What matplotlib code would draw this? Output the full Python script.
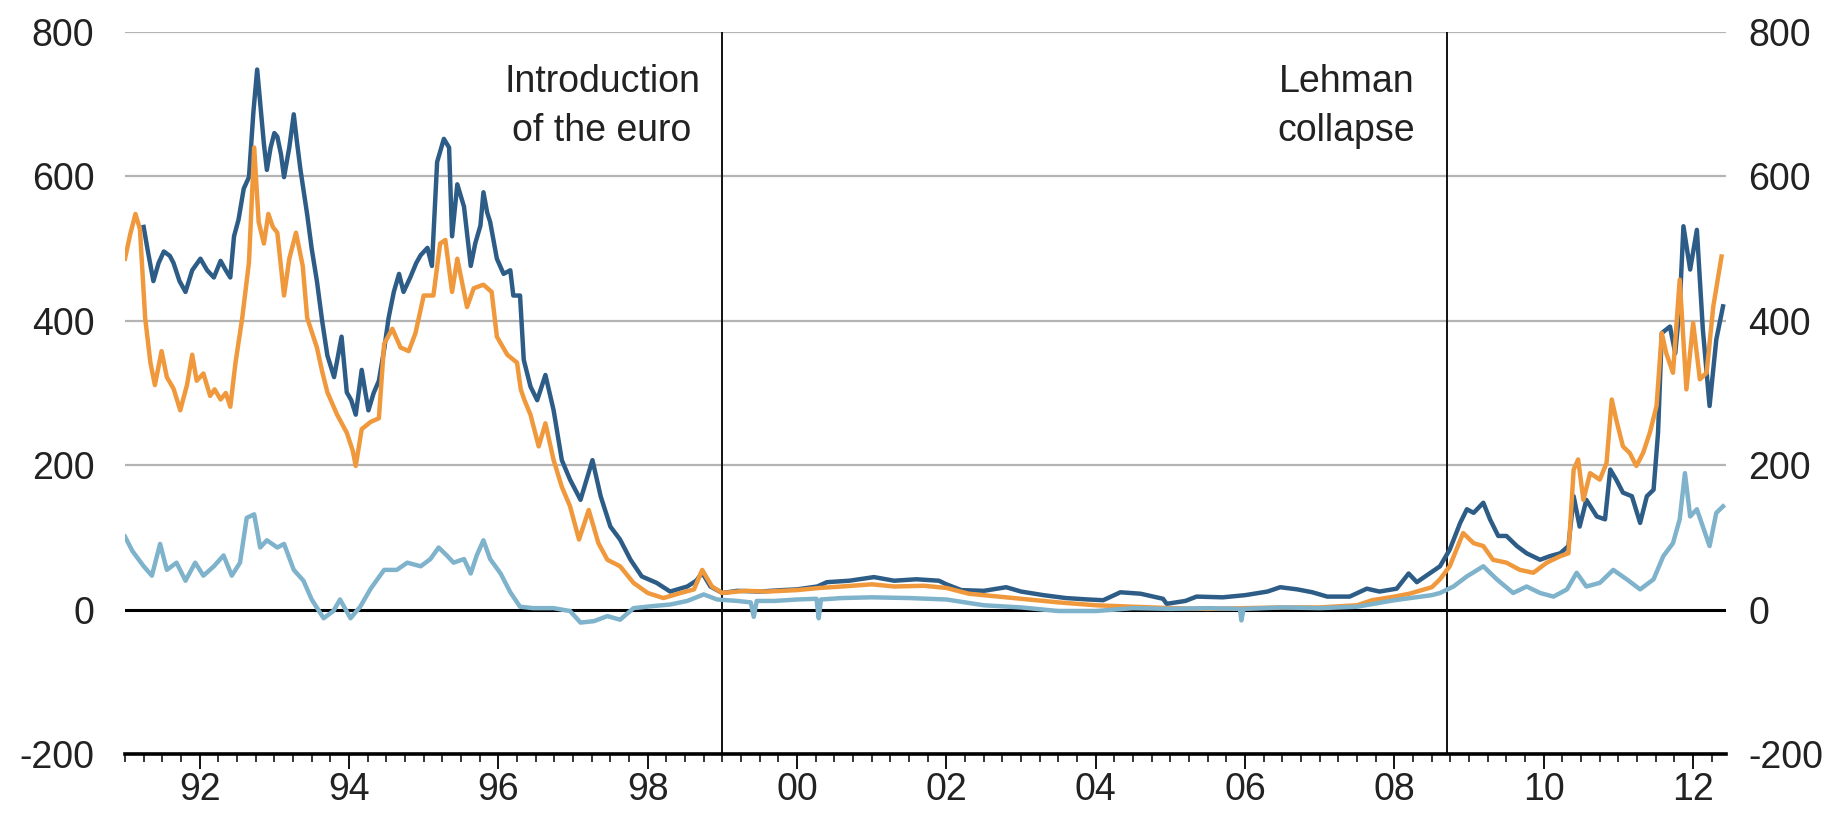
import matplotlib
matplotlib.use("Agg")
import matplotlib.pyplot as plt
from matplotlib.ticker import FixedLocator, MultipleLocator, FuncFormatter

plt.rcParams['font.family'] = ['Liberation Sans', 'DejaVu Sans']
plt.rcParams['axes.unicode_minus'] = False

# ---- data (decimal years, basis points) ----
dark_x = [1991.25, 1991.30, 1991.38, 1991.45, 1991.52, 1991.60, 1991.65, 1991.73, 1991.81, 1991.90,
          1992.01, 1992.10, 1992.19, 1992.28, 1992.35, 1992.41, 1992.46, 1992.52, 1992.59, 1992.66,
          1992.72, 1992.77, 1992.82, 1992.86, 1992.90, 1992.95, 1993.00, 1993.04, 1993.09, 1993.13,
          1993.20, 1993.26, 1993.30, 1993.35, 1993.44, 1993.50, 1993.57, 1993.64, 1993.71, 1993.80,
          1993.90, 1993.97, 1994.03, 1994.09, 1994.17, 1994.22, 1994.26, 1994.33, 1994.40, 1994.47,
          1994.53, 1994.60, 1994.67, 1994.73, 1994.82, 1994.90, 1994.96, 1995.05, 1995.11, 1995.15,
          1995.18, 1995.27, 1995.34, 1995.38, 1995.45, 1995.54, 1995.63, 1995.69, 1995.76, 1995.80,
          1995.85, 1995.89, 1995.98, 1996.07, 1996.16, 1996.20, 1996.29, 1996.34, 1996.43, 1996.52,
          1996.63, 1996.74, 1996.85, 1996.96, 1997.10, 1997.26, 1997.37, 1997.50, 1997.63, 1997.77,
          1997.92, 1998.12, 1998.30, 1998.53, 1998.65, 1998.73, 1998.84, 1999.00,
          1999.20, 1999.50, 1999.80, 2000.00, 2000.27, 2000.40, 2000.70, 2001.03, 2001.30, 2001.60,
          2001.90, 2002.00, 2002.20, 2002.50, 2002.80, 2003.00, 2003.30, 2003.60, 2003.90, 2004.10,
          2004.33, 2004.60, 2004.90, 2004.95, 2005.20, 2005.35, 2005.70, 2006.00, 2006.30, 2006.47,
          2006.70, 2006.90, 2007.10, 2007.40, 2007.63, 2007.80, 2008.03, 2008.19, 2008.30, 2008.47,
          2008.61, 2008.74, 2008.88, 2008.97, 2009.06, 2009.19, 2009.28, 2009.39, 2009.50, 2009.64,
          2009.77, 2009.95, 2010.08, 2010.22, 2010.33, 2010.40, 2010.48, 2010.57, 2010.71, 2010.82,
          2010.89, 2010.97, 2011.06, 2011.18, 2011.29, 2011.38, 2011.47, 2011.53, 2011.58, 2011.69,
          2011.76, 2011.82, 2011.87, 2011.96, 2012.05, 2012.13, 2012.22, 2012.31, 2012.40]
dark_y = [530, 500, 455, 480, 496, 490, 480, 455, 440, 470,
          486, 470, 460, 483, 470, 460, 517, 540, 583, 599,
          690, 748, 690, 645, 609, 640, 660, 655, 630, 599,
          640, 686, 650, 609, 547, 500, 455, 400, 352, 322,
          378, 301, 290, 270, 332, 300, 276, 300, 317, 360,
          404, 440, 465, 440, 460, 480, 491, 501, 476, 560,
          620, 652, 640, 517, 589, 558, 476, 507, 532, 578,
          550, 537, 486, 465, 470, 435, 435, 346, 309, 290,
          325, 276, 207, 180, 152, 207, 157, 115, 97, 69,
          46, 37, 25, 32, 40, 51, 32, 23,
          26, 25, 27, 28, 32, 38, 40, 45, 40, 42,
          40, 35, 27, 26, 31, 25, 20, 16, 14, 13,
          24, 22, 15, 8, 12, 18, 17, 20, 25, 31,
          28, 24, 18, 18, 29, 25, 29, 50, 38, 50,
          60, 83, 120, 139, 134, 148, 125, 102, 102, 88,
          78, 69, 74, 78, 88, 157, 115, 152, 129, 125,
          194, 180, 162, 157, 120, 157, 166, 245, 383, 392,
          355, 420, 531, 471, 526, 388, 282, 374, 420]

orange_x = [1991.00, 1991.07, 1991.14, 1991.20, 1991.27, 1991.34, 1991.40, 1991.49, 1991.56, 1991.65,
            1991.74, 1991.83, 1991.90, 1991.96, 1992.05, 1992.14, 1992.20, 1992.28, 1992.35, 1992.41,
            1992.48, 1992.57, 1992.66, 1992.73, 1992.79, 1992.86, 1992.92, 1992.98, 1993.04, 1993.13,
            1993.20, 1993.29, 1993.38, 1993.44, 1993.57, 1993.64, 1993.71, 1993.84, 1993.97, 1994.05,
            1994.09, 1994.17, 1994.29, 1994.40, 1994.47, 1994.58, 1994.69, 1994.80, 1994.89, 1995.00,
            1995.13, 1995.22, 1995.29, 1995.38, 1995.45, 1995.58, 1995.67, 1995.80, 1995.91, 1995.98,
            1996.12, 1996.25, 1996.30, 1996.35, 1996.43, 1996.54, 1996.63, 1996.74, 1996.85, 1996.96,
            1997.08, 1997.21, 1997.34, 1997.46, 1997.63, 1997.81, 1998.00, 1998.21, 1998.44, 1998.62,
            1998.73, 1998.86, 1999.00,
            1999.30, 1999.60, 2000.00, 2000.30, 2000.60, 2001.00, 2001.30, 2001.70, 2002.00, 2002.30,
            2002.70, 2003.00, 2003.50, 2004.00, 2004.50, 2005.00, 2005.50, 2006.00, 2006.50, 2007.00,
            2007.50, 2007.70, 2008.00, 2008.20, 2008.50, 2008.61, 2008.74, 2008.92, 2009.06, 2009.19,
            2009.32, 2009.50, 2009.68, 2009.86, 2010.04, 2010.22, 2010.33, 2010.40, 2010.46, 2010.53,
            2010.62, 2010.75, 2010.84, 2010.91, 2010.97, 2011.06, 2011.15, 2011.24, 2011.33, 2011.42,
            2011.51, 2011.58, 2011.64, 2011.73, 2011.82, 2011.91, 2012.00, 2012.09, 2012.18, 2012.27,
            2012.38]
orange_y = [486, 520, 548, 527, 404, 342, 311, 358, 322, 306,
            276, 311, 353, 317, 327, 296, 305, 291, 300, 281,
            342, 404, 481, 640, 537, 507, 548, 530, 522, 435,
            486, 522, 476, 404, 363, 330, 301, 270, 245, 220,
            199, 250, 260, 265, 368, 389, 363, 358, 383, 435,
            435, 507, 512, 440, 486, 419, 445, 450, 440, 378,
            353, 342, 305, 290, 270, 226, 258, 207, 170, 143,
            97, 138, 92, 69, 60, 37, 23, 16, 23, 28,
            55, 32, 23,
            26, 25, 27, 30, 32, 35, 32, 33, 30, 22,
            18, 15, 10, 6, 4, 2, 1, 2, 3, 3,
            6, 13, 18, 22, 31, 42, 60, 106, 92, 88,
            69, 65, 55, 51, 65, 74, 78, 194, 208, 152,
            189, 180, 203, 291, 263, 226, 217, 199, 217, 245,
            282, 383, 355, 328, 457, 305, 397, 319, 328, 420,
            489]

light_x = [1991.00, 1991.10, 1991.25, 1991.36, 1991.47, 1991.56, 1991.69, 1991.81, 1991.94, 1992.05,
           1992.19, 1992.32, 1992.43, 1992.54, 1992.63, 1992.73, 1992.81, 1992.90, 1993.04, 1993.13,
           1993.26, 1993.39, 1993.50, 1993.66, 1993.79, 1993.88, 1994.02, 1994.15, 1994.29, 1994.47,
           1994.64, 1994.78, 1994.96, 1995.09, 1995.20, 1995.31, 1995.40, 1995.54, 1995.63, 1995.71,
           1995.80, 1995.89, 1996.03, 1996.16, 1996.29, 1996.47, 1996.74, 1996.96, 1997.10, 1997.28,
           1997.46, 1997.63, 1997.81, 1998.08, 1998.30, 1998.53, 1998.75, 1998.93,
           1999.20, 1999.38, 1999.42, 1999.46, 1999.70, 2000.00, 2000.26, 2000.29, 2000.32, 2000.60,
           2001.00, 2001.50, 2002.00, 2002.50, 2003.00, 2003.50, 2004.00, 2004.50, 2005.00, 2005.50,
           2005.93, 2005.95, 2005.98, 2006.50, 2007.00, 2007.50, 2008.00, 2008.50, 2008.61, 2008.79,
           2008.97, 2009.19, 2009.37, 2009.59, 2009.77, 2009.95, 2010.13, 2010.31, 2010.44, 2010.57,
           2010.75, 2010.93, 2011.11, 2011.29, 2011.47, 2011.60, 2011.73, 2011.82, 2011.89, 2011.96,
           2012.05, 2012.13, 2012.22, 2012.31, 2012.40]
light_y = [101, 81, 60, 47, 91, 55, 65, 40, 65, 47,
           60, 75, 47, 65, 127, 132, 86, 96, 86, 91,
           55, 40, 14, -12, -2, 14, -12, 4, 29, 55,
           55, 65, 60, 70, 86, 75, 65, 70, 50, 75,
           96, 70, 50, 24, 4, 2, 2, -2, -18, -16,
           -9, -14, 2, 5, 7, 12, 21, 14,
           12, 10, -10, 12, 12, 14, 15, -12, 14, 16,
           17, 16, 14, 6, 3, -2, -2, 2, 1, 2,
           1, -15, 1, 3, 2, 4, 13, 20, 23, 32,
           46, 60, 42, 23, 32, 23, 18, 28, 51, 32,
           37, 55, 42, 28, 42, 74, 92, 125, 189, 129,
           139, 115, 88, 134, 143]

y_ticks = [-200, 0, 200, 400, 600, 800]
x_major = [1992, 1994, 1996, 1998, 2000, 2002, 2004, 2006, 2008, 2010, 2012]
events = [1999.0, 2008.71]
event_labels = ["Introduction\nof the euro", "Lehman\ncollapse"]

# ---- figure ----
W, H, DPI = 1837, 815, 100
fig = plt.figure(figsize=(W / DPI, H / DPI), dpi=DPI)
ax = fig.add_axes([125 / W, 1 - 754 / H, (1726 - 125) / W, (754 - 32) / H])

ax.set_xlim(1991.0, 2012.44)
ax.set_ylim(-200, 800)

for v in [200, 400, 600, 800]:
    ax.axhline(v, color='#b4b4b4', lw=1.6, zorder=1)
ax.axhline(0, color='black', lw=2.2, zorder=2)

for ex in events:
    ax.axvline(ex, color='#111111', lw=1.4, zorder=2)

ax.plot(dark_x, dark_y, color='#2d5d87', lw=3.2, zorder=3, solid_joinstyle='round')
ax.plot(orange_x, orange_y, color='#f0983c', lw=3.2, zorder=4, solid_joinstyle='round')
ax.plot(light_x, light_y, color='#7fb2cb', lw=3.2, zorder=5, solid_joinstyle='round')

# annotations
txt_kw = dict(ha='right', va='top', fontsize=27, color='#222222',
              multialignment='center', linespacing=1.45)
ax.text(events[0] - 0.3, 755, event_labels[0], **txt_kw)
ax.text(events[1] - 0.43, 755, event_labels[1], **txt_kw)

# spines
for s in ['top', 'left', 'right']:
    ax.spines[s].set_visible(False)
ax.spines['bottom'].set_color('black')
ax.spines['bottom'].set_linewidth(2.6)

# x ticks
ax.xaxis.set_major_locator(FixedLocator(x_major))
ax.xaxis.set_minor_locator(MultipleLocator(0.25))
ax.xaxis.set_major_formatter(FuncFormatter(lambda v, p: f"{int(round(v)) % 100:02d}"))
ax.tick_params(axis='x', which='major', length=11, width=1.3, color='black',
               labelsize=27, labelcolor='#222222', pad=2)
ax.tick_params(axis='x', which='minor', length=6, width=1.1, color='black')

# y ticks left
ax.set_yticks(y_ticks)
ax.tick_params(axis='y', which='both', length=0, labelsize=27, labelcolor='#222222', pad=22)

# right axis labels
ax2 = ax.twinx()
ax2.set_ylim(ax.get_ylim())
ax2.set_yticks(y_ticks)
for s in ['top', 'left', 'right', 'bottom']:
    ax2.spines[s].set_visible(False)
ax2.tick_params(axis='y', which='both', length=0, labelsize=27, labelcolor='#222222', pad=16)

fig.savefig("out.png", dpi=DPI, facecolor='white')
